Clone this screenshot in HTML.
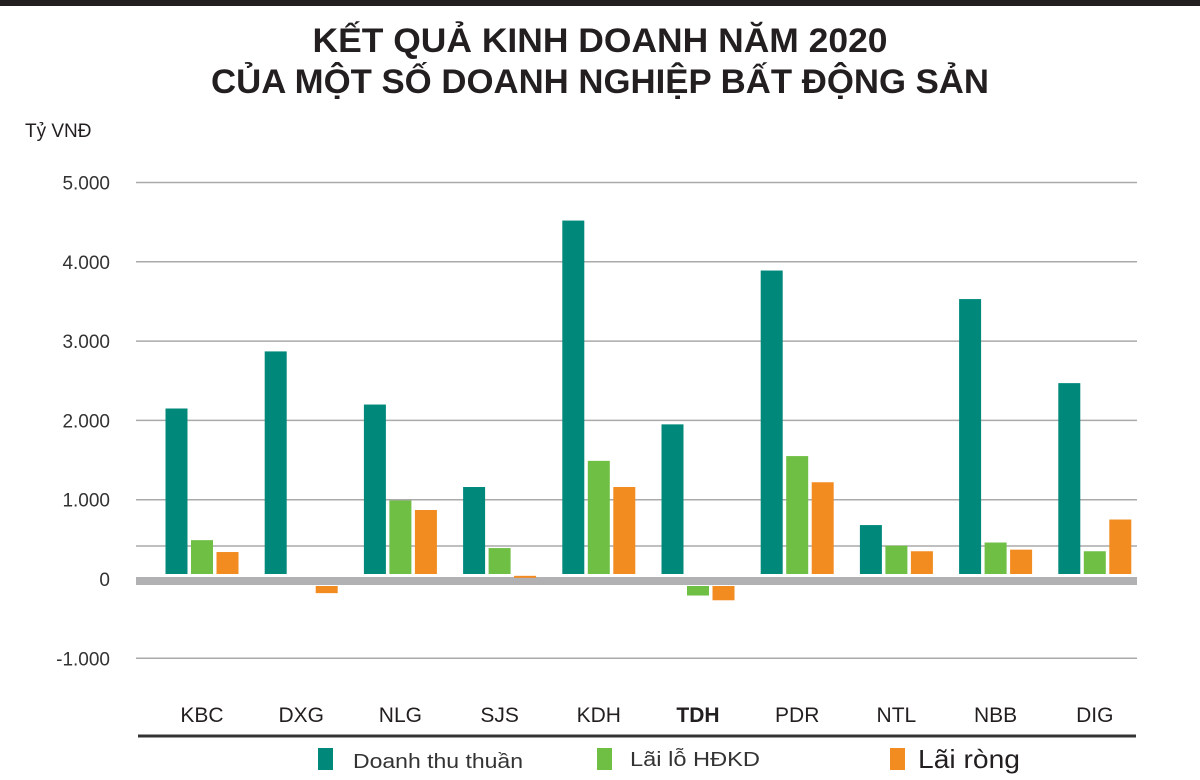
<!DOCTYPE html>
<html><head><meta charset="utf-8"><style>
body{margin:0;background:#fff;}
svg{display:block;font-family:"Liberation Sans",sans-serif;}
</style></head><body>
<svg id="c" width="1200" height="780" viewBox="0 0 1200 780">
<rect x="0" y="0" width="1200" height="6" fill="#231f20"/>
<text x="600" y="52" text-anchor="middle" font-weight="bold" font-size="34" fill="#231f20" textLength="575" lengthAdjust="spacingAndGlyphs">KẾT QUẢ KINH DOANH NĂM 2020</text>
<text x="600" y="93" text-anchor="middle" font-weight="bold" font-size="34" fill="#231f20" textLength="778" lengthAdjust="spacingAndGlyphs">CỦA MỘT SỐ DOANH NGHIỆP BẤT ĐỘNG SẢN</text>
<text x="25" y="137" font-size="19" fill="#231f20">Tỷ VNĐ</text>
<g id="grid"></g><g id="bars"></g><g id="xl"></g>
<line x1="138" y1="736" x2="1136" y2="736" stroke="#333" stroke-width="3"/>
<g>
<rect x="318" y="748" width="15" height="22" fill="#00897b"/>
<text x="353" y="768" font-size="20" fill="#333" textLength="170" lengthAdjust="spacingAndGlyphs">Doanh thu thuần</text>
<rect x="597" y="748" width="15" height="22" fill="#6fbf44"/>
<text x="630" y="766" font-size="20" fill="#333" textLength="130" lengthAdjust="spacingAndGlyphs">Lãi lỗ HĐKD</text>
<rect x="890" y="748" width="15" height="22" fill="#f28b20"/>
<text x="918" y="768" font-size="26" fill="#231f20" textLength="102" lengthAdjust="spacingAndGlyphs">Lãi ròng</text>
</g>
</svg>
<script>
const categories=["KBC","DXG","NLG","SJS","KDH","TDH","PDR","NTL","NBB","DIG"];
const revenue=[2150,2870,2200,1160,4520,1950,3890,680,3530,2470];
const operating=[490,0,990,390,1490,-120,1550,420,460,350];
const netProfit=[340,-90,870,40,1160,-180,1220,350,370,750];
const ticks=[5000,4000,3000,2000,1000,0,-1000];
const tickLabels=["5.000","4.000","3.000","2.000","1.000","0","-1.000"];
const NS="http://www.w3.org/2000/svg";
function y(v){return 579-v*0.0793;}
function gx(i){return 202+i*99.2;}
function mk(t,a,p){const e=document.createElementNS(NS,t);for(const k in a)e.setAttribute(k,a[k]);p.appendChild(e);return e;}
const grid=document.getElementById('grid'),bars=document.getElementById('bars'),xl=document.getElementById('xl');
ticks.forEach((t,i)=>{
 if(t!==0){const l=mk('line',{x1:136,x2:1137,y1:y(t),y2:y(t),stroke:'#aaa','stroke-width':1.5},grid);
 
 }
 const tx=mk('text',{x:110,y:y(t)+7,'text-anchor':'end','font-size':19,fill:'#333'},grid);
 tx.textContent=tickLabels[i];
 
 
});
const mid=mk('line',{x1:136,x2:1137,y1:546,y2:546,stroke:'#aaa','stroke-width':1.5},grid);


const zb=mk('rect',{x:136,y:577,width:1001,height:8,fill:'#b1b1b4'},grid);


const series=[[revenue,'#00897b','revenue'],[operating,'#6fbf44','operating'],[netProfit,'#f28b20','net']];
categories.forEach((c,i)=>{
 series.forEach((s,j)=>{
  const v=s[0][i];if(v===0)return;
  const x=gx(i)+(j-1)*25.5-11;let yy,h;
  if(v>0){yy=y(v);h=574-yy;}else{yy=586;h=-v*0.0793;}
  const r=mk('rect',{x:x,y:yy,width:22,height:Math.max(h,2),fill:s[1]},bars);
  
  
 });
 const t=mk('text',{x:gx(i),y:722,'text-anchor':'middle','font-size':21,fill:'#231f20','font-weight':c==='TDH'?'bold':'normal'},xl);
 t.textContent=c;
 
 
});
</script>
</body></html>
